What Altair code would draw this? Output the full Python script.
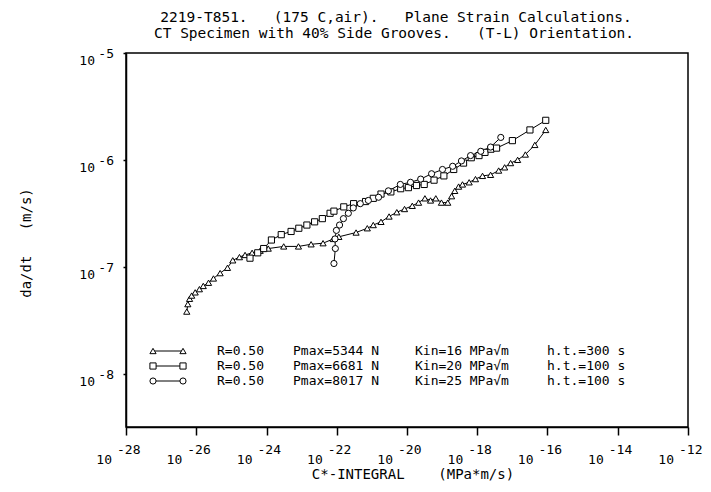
import altair as alt
import pandas as pd

# ---------------- data (log10 values) ----------------
series_names = ["5344 N", "6681 N", "8017 N"]
series_shapes = ["triangle-up", "square", "circle"]

tri_logC = [-26.27, -26.24, -26.19, -26.13, -26.03, -25.91, -25.80, -25.65, -25.51, -25.32,
            -25.11, -24.96, -24.77, -24.61, -24.41, -24.18, -23.95, -23.51, -23.09, -22.73,
            -22.39, -22.10, -21.94, -21.45, -21.13, -20.96, -20.74, -20.51, -20.29, -20.07,
            -19.85, -19.67, -19.49, -19.33, -19.18, -19.02, -18.84, -18.73, -18.64, -18.53,
            -18.42, -18.23, -18.05, -17.85, -17.62, -17.39, -17.22, -17.05, -16.85, -16.63,
            -16.36, -16.05]
tri_logV = [-7.42, -7.35, -7.30, -7.27, -7.24, -7.21, -7.18, -7.15, -7.11, -7.06,
            -7.01, -6.94, -6.91, -6.89, -6.87, -6.85, -6.83, -6.81, -6.81, -6.79,
            -6.78, -6.74, -6.72, -6.68, -6.64, -6.61, -6.58, -6.53, -6.49, -6.46,
            -6.43, -6.40, -6.36, -6.38, -6.36, -6.40, -6.40, -6.34, -6.29, -6.25,
            -6.23, -6.21, -6.18, -6.15, -6.14, -6.10, -6.07, -6.03, -6.00, -5.95,
            -5.86, -5.72]

sq_logC = [-24.47, -24.25, -24.08, -23.86, -23.58, -23.30, -23.08, -22.85, -22.63, -22.41,
           -22.19, -22.08, -21.80, -21.52, -21.18, -20.96, -20.74, -20.46, -20.18, -19.96,
           -19.73, -19.51, -19.23, -18.95, -18.67, -18.39, -18.17, -17.95, -17.78, -17.61,
           -17.45, -17.00, -16.50, -16.05]
sq_logV = [-6.92, -6.87, -6.83, -6.75, -6.70, -6.67, -6.64, -6.61, -6.58, -6.55,
           -6.50, -6.48, -6.44, -6.41, -6.39, -6.36, -6.32, -6.30, -6.27, -6.26,
           -6.24, -6.23, -6.19, -6.15, -6.09, -6.03, -5.98, -5.96, -5.93, -5.90,
           -5.89, -5.82, -5.72, -5.63]

circ_logC = [-22.08, -22.04, -22.05, -22.01, -21.92, -21.81, -21.67, -21.53, -21.33, -21.10,
             -20.81, -20.53, -20.19, -19.90, -19.61, -19.30, -18.99, -18.70, -18.45, -18.19,
             -17.90, -17.62, -17.33]
circ_logV = [-6.97, -6.83, -6.74, -6.66, -6.61, -6.55, -6.50, -6.45, -6.41, -6.38,
             -6.35, -6.29, -6.23, -6.21, -6.18, -6.13, -6.09, -6.06, -6.01, -5.96,
             -5.92, -5.88, -5.79]

x_tick_exp = [-28, -26, -24, -22, -20, -18, -16, -14, -12]
y_tick_exp = [-5, -6, -7, -8]

legend_R = ["R=0.50", "R=0.50", "R=0.50"]
legend_P = ["Pmax=5344 N", "Pmax=6681 N", "Pmax=8017 N"]
legend_K = ["Kin=16 MPa\u221am", "Kin=20 MPa\u221am", "Kin=25 MPa\u221am"]
legend_H = ["h.t.=300 s", "h.t.=100 s", "h.t.=100 s"]

NB = "\u00a0"
title_1 = "2219-T851." + NB * 3 + "(175 C,air)." + NB * 3 + "Plane Strain Calculations."
title_2 = "CT Specimen with 40% Side Grooves." + NB * 3 + "(T-L) Orientation."
x_title = "C*-INTEGRAL" + NB * 4 + "(MPa*m/s)"
y_title = "da/dt" + NB * 3 + "(m/s)"

# ---------------- tables ----------------
rows = []
for name, lc, lv in zip(series_names, [tri_logC, sq_logC, circ_logC], [tri_logV, sq_logV, circ_logV]):
    for i, (a, b) in enumerate(zip(lc, lv)):
        rows.append({"series": name, "i": i, "C": 10.0 ** a, "V": 10.0 ** b})
df = pd.DataFrame(rows)

df_xt = pd.DataFrame({"val": [10.0 ** e for e in x_tick_exp],
                      "base": ["10"] * len(x_tick_exp),
                      "exp": [str(e) for e in x_tick_exp]})
df_yt = pd.DataFrame({"val": [10.0 ** e for e in y_tick_exp],
                      "base": ["10"] * len(y_tick_exp),
                      "exp": [str(e) for e in y_tick_exp]})
dummy = pd.DataFrame({"a": [0]})

MONO = "DejaVu Sans Mono"
XDOM = [1e-28, 1e-12]
YDOM = [10 ** -8.5, 1e-5]
xs = alt.Scale(type="log", domain=XDOM, nice=False)
ys = alt.Scale(type="log", domain=YDOM, nice=False)

x_axis = alt.Axis(values=[10.0 ** e for e in x_tick_exp], labels=False, title=None, grid=False,
                  tickSize=8, tickWidth=1.5, tickColor="black", domainColor="black", domainWidth=1.5)
y_axis = alt.Axis(values=[10.0 ** e for e in y_tick_exp], labels=False, title=None, grid=False,
                  tickSize=3, tickWidth=1.5, tickColor="black", domainColor="black", domainWidth=1.5)

lines = alt.Chart(df).mark_line(color="black", strokeWidth=1).encode(
    x=alt.X("C:Q", scale=xs, axis=x_axis),
    y=alt.Y("V:Q", scale=ys, axis=y_axis),
    detail="series:N",
    order="i:Q",
)
points = alt.Chart(df).mark_point(filled=True, fill="white", stroke="black", strokeWidth=1,
                                  size=38, opacity=1).encode(
    x=alt.X("C:Q", scale=xs, axis=x_axis),
    y=alt.Y("V:Q", scale=ys, axis=y_axis),
    shape=alt.Shape("series:N", scale=alt.Scale(domain=series_names, range=series_shapes), legend=None),
)

# tick labels 10^n
xt_base = alt.Chart(df_xt).mark_text(align="right", baseline="alphabetic", dx=-14, font=MONO,
                                     fontSize=13, color="black").encode(
    x=alt.X("val:Q", scale=xs, axis=x_axis), y=alt.value(411), text="base:N")
xt_exp = alt.Chart(df_xt).mark_text(align="left", baseline="alphabetic", dx=-9, font=MONO,
                                    fontSize=13, color="black").encode(
    x=alt.X("val:Q", scale=xs, axis=x_axis), y=alt.value(401), text="exp:N")
yt_base = alt.Chart(df_yt).mark_text(align="right", baseline="alphabetic", dx=-31, dy=12, font=MONO,
                                     fontSize=13, color="black").encode(
    y=alt.Y("val:Q", scale=ys, axis=y_axis), x=alt.value(0), text="base:N")
yt_exp = alt.Chart(df_yt).mark_text(align="right", baseline="alphabetic", dx=-12, dy=5, font=MONO,
                                    fontSize=13, color="black").encode(
    y=alt.Y("val:Q", scale=ys, axis=y_axis), x=alt.value(0), text="exp:N")

layers = [lines, points, xt_base, xt_exp, yt_base, yt_exp]

# titles (plot top is at page y 53)
layers.append(alt.Chart(dummy).mark_text(text=title_1, font=MONO, fontSize=14.5, align="center",
                                         baseline="alphabetic", color="black").encode(
    x=alt.value(270), y=alt.value(-31)))
layers.append(alt.Chart(dummy).mark_text(text=title_2, font=MONO, fontSize=14.5, align="center",
                                         baseline="alphabetic", color="black").encode(
    x=alt.value(268), y=alt.value(-15)))
layers.append(alt.Chart(dummy).mark_text(text=x_title, font=MONO, fontSize=14, align="center",
                                         baseline="alphabetic", color="black").encode(
    x=alt.value(287), y=alt.value(426)))
layers.append(alt.Chart(dummy).mark_text(text=y_title, font=MONO, fontSize=14, align="center",
                                         baseline="middle", angle=270, color="black").encode(
    x=alt.value(-99), y=alt.value(190)))

# legend inside the plot
for r in range(3):
    yy = 298 + 15 * r
    layers.append(alt.Chart(dummy).mark_rule(color="black", strokeWidth=1).encode(
        x=alt.value(27), x2=alt.value(57), y=alt.value(yy)))
    for xx in (27, 57):
        layers.append(alt.Chart(dummy).mark_point(shape=series_shapes[r], filled=True, fill="white",
                                                  stroke="black", strokeWidth=1, size=38, opacity=1).encode(
            x=alt.value(xx), y=alt.value(yy)))
    for txt, xx in zip([legend_R[r], legend_P[r], legend_K[r], legend_H[r]], (91, 167, 289, 421)):
        layers.append(alt.Chart(dummy).mark_text(text=txt, font=MONO, fontSize=13, align="left",
                                                 baseline="middle", color="black").encode(
            x=alt.value(xx), y=alt.value(yy)))

chart = alt.layer(*layers).properties(
    width=562, height=374,
    padding={"left": 118, "top": 45, "right": 15, "bottom": 55},
    autosize=alt.AutoSizeParams(type="none"),
    background="white",
).configure_view(stroke="black", strokeWidth=1.5)

chart.save("out.html", embed_options={"renderer": "svg", "actions": False})
